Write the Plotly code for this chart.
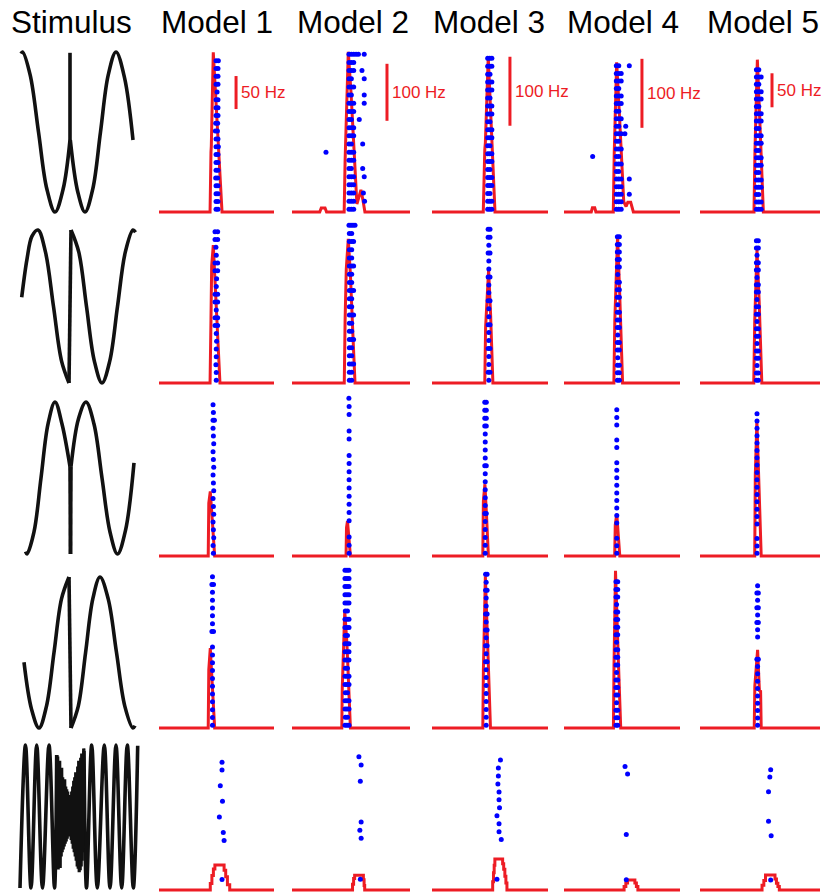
import plotly.graph_objects as go

# ======================= DATA =======================
TITLES = ["Stimulus", "Model 1", "Model 2", "Model 3", "Model 4", "Model 5"]

SCALE_LABELS = ["50 Hz", "100 Hz", "100 Hz", "100 Hz", "50 Hz"]
SCALE_HZ = [50, 100, 100, 100, 50]
SCALE_BAR_T = [67.0, 80.5, 67.2, 67.2, 60.0]     # ms, in row-1 panel of each model
SCALE_BAR_LOW = [156, 160, 125, 122, 154]        # Hz, lower end of the bar

# --- stimulus waveforms (time, amplitude); None separates strokes ---
STIM1_T = [21, 22.5, 30.2, 38.5, 46.8, 55, 63.2, 70, None, 70, 70, None,
           70.3, 77.8, 85, 92.8, 100.5, 108.2, 116, 124.5, 133]
STIM1_V = [0.98, 1.0, 0.71, 0.0, -0.71, -1.0, -0.71, -0.1, None, -0.1, 0.99, None,
           -0.1, -0.75, -1.0, -0.71, 0.0, 0.71, 1.0, 0.68, -0.1]

STIM2_T = [21.7, 27, 32, 38, 45.5, 53.5, 61.5, 69, None, 69, 71, None,
           71, 78.8, 86.5, 94.3, 102, 109.8, 117.5, 125.3, 133, 135.5]
STIM2_V = [0.12, 0.62, 0.92, 1.0, 0.71, 0.0, -0.71, -1.0, None, -1.0, 1.0, None,
           1.0, 0.71, 0.0, -0.71, -1.0, -0.71, 0.0, 0.71, 1.0, 0.97]

STIM3_T = [25.5, 27, 34, 41, 48, 55, 62, 70, None, 70, 70.5, None, 70.5, 71, None,
           71, 78.5, 86, 94, 102, 110, 117.5, 125.5, 134]
STIM3_V = [-0.97, -1.0, -0.71, 0.0, 0.71, 1.0, 0.71, 0.15, None, 0.15, -1.0, None, -1.0, 0.15, None,
           0.15, 0.78, 1.0, 0.71, 0.0, -0.71, -1.0, -0.69, 0.2]

STIM4_T = [24, 31.5, 39, 46.5, 54, 61.5, 69, None, 69, 71, None,
           71, 78.3, 85.6, 92.8, 100, 108.2, 116.5, 124.8, 133, 135]
STIM4_V = [-0.13, -0.75, -1.0, -0.71, 0.0, 0.71, 1.0, None, 1.0, -1.0, None,
           -1.0, -0.71, 0.0, 0.71, 1.0, 0.71, 0.0, -0.71, -1.0, -0.97]

STIM5_T = [20, 25.5, 31, 36.7, 42.5, 49, 54.5, 56.7, None,
           84, 86.5, 91.7, 97.3, 104.3, 110, 116, 121.7, 127.3, 133.3, 137.7]
STIM5_V = [-1.0, 1.0, -1.0, 1.0, -1.0, 1.0, -1.0, 0.86, None,
           0.92, -1.0, 1.0, -1.0, 1.0, -1.0, 1.0, -1.0, 1.0, -1.0, 0.99]

STIM5_NOISE = [(56.7, 0.86), (57.2, -0.60), (57.7, 0.84), (58.2, -0.74), (58.7, 0.70),
               (59.2, -0.66), (59.7, 0.78), (60.2, -0.72), (60.7, 0.60), (61.2, -0.56),
               (61.7, 0.68), (62.2, -0.50), (62.7, 0.55), (63.2, -0.46), (63.7, 0.50),
               (64.2, -0.42), (64.7, 0.52), (65.2, -0.38), (65.7, 0.42), (66.2, -0.35),
               (66.7, 0.38), (67.2, -0.31), (67.7, 0.35), (68.2, -0.28), (68.7, 0.30),
               (69.2, -0.25), (69.7, 0.28), (70.2, -0.27), (70.7, 0.30), (71.2, -0.33),
               (71.7, 0.35), (72.2, -0.38), (72.7, 0.42), (73.2, -0.45), (73.7, 0.50),
               (74.2, -0.50), (74.7, 0.55), (75.2, -0.56), (75.7, 0.62), (76.2, -0.62),
               (76.7, 0.60), (77.2, -0.70), (77.7, 0.70), (78.2, -0.73), (78.7, 0.78),
               (79.2, -0.78), (79.7, 0.72), (80.2, -0.75), (80.7, 0.82), (81.2, -0.70),
               (81.7, 0.88), (82.2, -0.62), (82.7, 0.85), (83.2, -0.50), (83.7, 0.95),
               (84.0, 0.92)]

# --- PSTH: time (ms) and rate (Hz) for each row (R) and model (C) ---
R1C1_T = [0, 44.4, 45.2, 45.5, 47.2, 49.6, 51.3, 53.0, 54.8, 100]
R1C1_R = [0, 0, 91, 100, 242, 165, 110, 50, 0, 0]
R1C2_T = [0, 23.5, 24.8, 28.0, 29.3, 44.2, 45.0, 47.7, 50.0, 52.9, 55.0, 56.7, 58.4, 60.1, 61.8, 100]
R1C2_R = [0, 0, 7, 7, 0, 0, 90, 281, 210, 88, 14, 26, 39, 21, 0, 0]
R1C3_T = [0, 44.2, 45.5, 46.0, 48.5, 50.5, 52.5, 54.3, 100]
R1C3_R = [0, 0, 90, 100, 225, 150, 70, 0, 0]
R1C4_T = [0, 23.5, 24.5, 26.5, 27.5, 42.5, 43.3, 45.4, 47.5, 49.5, 51.5, 53.5, 55.0, 57.5, 59.8, 100]
R1C4_R = [0, 0, 6, 6, 0, 0, 85, 217, 150, 70, 15, 8, 14, 14, 0, 0]
R1C5_T = [0, 45.0, 45.8, 47.8, 49.5, 51.2, 52.8, 100]
R1C5_R = [0, 0, 90, 224, 150, 60, 0, 0]

R2C1_T = [0, 44.4, 45.2, 45.8, 47.2, 49.0, 51.0, 53.0, 100]
R2C1_R = [0, 0, 96, 177, 209, 150, 80, 0, 0]
R2C2_T = [0, 44.3, 45.0, 46.0, 47.7, 49.5, 51.5, 53.4, 100]
R2C2_R = [0, 0, 110, 200, 253, 190, 90, 0, 0]
R2C3_T = [0, 45.5, 46.2, 48.8, 50.5, 52.5, 100]
R2C3_R = [0, 0, 80, 164, 100, 0, 0]
R2C4_T = [0, 43.0, 43.8, 46.2, 48.0, 50.5, 100]
R2C4_R = [0, 0, 90, 213, 130, 0, 0]
R2C5_T = [0, 44.8, 45.6, 47.5, 49.3, 51.5, 100]
R2C5_R = [0, 0, 90, 196, 120, 0, 0]

R3C1_T = [0, 42.8, 43.3, 44.6, 46.5, 48.4, 100]
R3C1_R = [0, 0, 80, 98, 50, 0, 0]
R3C2_T = [0, 45.8, 46.2, 47.0, 48.3, 49.5, 100]
R3C2_R = [0, 0, 50, 61, 30, 0, 0]
R3C3_T = [0, 43.8, 44.3, 45.6, 47.1, 48.6, 100]
R3C3_R = [0, 0, 80, 104, 55, 0, 0]
R3C4_T = [0, 43.7, 44.2, 45.5, 46.8, 48.1, 100]
R3C4_R = [0, 0, 45, 61, 30, 0, 0]
R3C5_T = [0, 45.6, 46.1, 47.4, 49.2, 51.0, 100]
R3C5_R = [0, 0, 120, 199, 100, 0, 0]

R4C1_T = [0, 42.8, 43.3, 44.6, 46.5, 48.4, 100]
R4C1_R = [0, 0, 88, 121, 60, 0, 0]
R4C2_T = [0, 42.2, 42.6, 44.7, 46.5, 48.0, 49.5, 100]
R4C2_R = [0, 0, 70, 205, 150, 80, 0, 0]
R4C3_T = [0, 43.8, 44.3, 46.0, 48.2, 50.4, 100]
R4C3_R = [0, 0, 83, 220, 110, 0, 0]
R4C4_T = [0, 42.6, 43.1, 44.4, 46.6, 48.9, 100]
R4C4_R = [0, 0, 90, 228, 110, 0, 0]
R4C5_T = [0, 45.2, 45.7, 48.0, 49.5, 50.5, 51.0, 100]
R4C5_R = [0, 0, 62, 115, 55, 54, 0, 0]

R5C1_T = [0, 44.6, 46.0, 47.3, 48.6, 56.6, 58.0, 59.5, 61.5, 100]
R5C1_R = [0, 10, 22, 32, 38, 30, 20, 8, 0, 0]
R5C2_T = [0, 51.3, 52.2, 53.1, 60.5, 61.1, 61.6, 100]
R5C2_R = [0, 10, 20, 26, 18, 8, 0, 0]
R5C3_T = [0, 52.3, 53.0, 53.6, 54.2, 60.9, 61.8, 62.8, 63.7, 64.6, 100]
R5C3_R = [0, 12, 25, 36, 45, 38, 30, 20, 10, 0, 0]
R5C4_T = [0, 51.8, 53.3, 54.8, 61.1, 62.4, 63.7, 100]
R5C4_R = [0, 5, 10, 14.5, 10, 5, 0, 0]
R5C5_T = [0, 51.7, 53.2, 54.6, 62.5, 63.7, 64.9, 66.1, 100]
R5C5_R = [0, 7, 14, 22, 16, 10, 5, 0, 0]

# --- rasters: spike times (ms) of trials 1..20 (bottom to top) ---
R1C1_SPK = [[49.6, 51.3], [49.6, 51.3], [49.6, 51.3], [49.6, 51.3], [49.3, 51.0],
            [49.6, 51.3], [49.6, 51.3], [49.6, 51.3], [49.6, 51.6], [49.6, 51.3],
            [49.0, 50.8], [49.3, 51.0], [49.6, 51.3], [49.6, 51.3], [49.6, 51.3],
            [50.5], [49.6, 51.3], [49.6, 51.3], [49.6, 51.3], [49.6, 51.6]]
R1C2_SPK = [[48.3, 50.3, 52.3], [48.3, 50.3, 52.3, 61.5], [48.3, 50.3, 52.3, 60.5], [48.3, 50.3, 52.3],
            [48.3, 50.3, 52.3, 61.2], [48.3, 50.3, 59.9], [48.3, 50.3, 52.3], [28.8, 48.3, 50.3, 52.3],
            [48.3, 50.3, 59.9], [48.3, 50.3, 52.3], [48.3, 50.3, 52.3], [48.3, 50.3, 57.0],
            [48.3, 50.3, 52.3], [48.3, 50.3, 52.3, 61.2], [48.3, 50.3, 61.2], [48.3, 50.3, 52.3],
            [48.3, 50.3, 61.2], [48.3, 50.3, 52.3, 59.3], [48.3, 50.3, 52.3],
            [48.3, 50.3, 52.3, 54.3, 56.3, 61.2]]
R1C3_SPK = [[48.0, 49.8, 51.6], [48.0, 49.8, 51.6], [48.0, 50.0], [48.0, 49.8, 51.6], [48.0, 49.8, 51.6],
            [48.0, 50.0], [48.0, 49.8, 51.6], [48.0, 49.8, 51.6], [48.0, 50.0], [48.0, 49.8, 51.6],
            [48.0, 49.8, 51.6], [48.0, 50.0], [48.0, 49.8, 51.6], [48.0, 49.8, 51.6], [48.0, 50.0],
            [48.0, 49.8, 51.6], [48.0, 49.8, 51.6], [48.0, 50.0], [48.0, 49.8, 51.6], [48.0, 49.8, 51.6]]
R1C4_SPK = [[45.1, 47.2, 49.3], [45.1, 47.2, 49.3], [45.1, 47.2, 49.3, 56.3], [45.1, 47.2, 49.3],
            [45.1, 47.2, 49.3, 56.3], [45.1, 47.2], [45.1, 47.2, 49.3], [24.7, 45.1, 47.2],
            [45.1, 47.2, 49.3], [45.1, 47.2], [45.1, 47.2, 49.3, 52.5], [45.1, 47.2, 53.2],
            [45.1, 47.2, 49.3], [45.1, 47.2], [45.1, 47.2, 49.3], [45.1, 47.2, 49.3],
            [45.1, 47.2], [45.1, 47.2, 49.3], [45.1, 47.2, 49.3], [45.1, 47.2, 56.3]]
R1C5_SPK = [[47.0, 49.0, 51.0], [47.0, 49.0, 51.0], [47.0, 49.0], [47.0, 49.0, 51.0], [47.0, 49.0, 51.0],
            [47.0, 49.0], [47.0, 49.0, 51.0], [47.0, 49.0, 51.0], [47.0, 49.0], [47.0, 49.0, 51.0],
            [47.0, 49.0, 51.0], [47.0, 49.0], [47.0, 49.0, 51.0], [47.0, 49.0, 51.0], [47.0, 49.0],
            [47.0, 49.0, 51.0], [47.0, 49.0, 51.0], [47.0, 49.0], [47.0, 49.0, 51.0], [47.0, 49.0]]

R2C1_SPK = [[49.8], [49.8], [49.5], [49.8], [49.8], [50.1], [49.8], [48.7, 51.0], [48.7, 51.0], [49.8],
            [48.7, 51.0], [48.7, 51.0], [49.8], [50.1], [48.7, 51.0], [48.7, 51.0], [49.8], [49.5],
            [48.7, 51.0], [48.7, 51.0]]
R2C2_SPK = [[48.6, 50.6], [48.6, 50.6], [48.6, 50.6, 52.2], [48.6, 50.6], [48.6, 50.6],
            [48.6, 50.6, 52.2], [48.6, 50.6], [48.6, 50.6], [48.6, 50.6, 52.2], [48.6, 50.6],
            [48.6, 50.6], [48.6, 50.6, 52.2], [48.6, 50.6], [48.6, 50.6], [48.6, 50.6, 52.2],
            [48.6, 50.6], [48.6, 50.6], [48.6, 50.6, 52.2], [48.6, 50.6], [48.3, 50.0, 51.7, 53.4]]
R2C3_SPK = [[49.0], [48.4, 50.0], [49.0], [49.0], [48.4, 50.0], [49.0], [49.0], [48.4, 50.0], [49.0], [49.0],
            [48.4, 50.0], [49.0], [49.0], [48.4, 50.0], [49.0], [49.0], [48.4, 50.0], [49.0], [48.4, 50.0],
            [48.4, 50.0]]
R2C4_SPK = [[46.0, 47.7], [46.0, 47.7], [46.0, 47.7], [46.3], [46.0, 47.7], [46.0, 47.7], [46.3],
            [46.0, 47.7], [46.0, 47.7], [46.0, 47.7], [46.3], [46.0, 47.7], [46.0, 47.7], [46.0, 47.7],
            [46.3], [46.0, 47.7], [46.0, 47.7], [46.0, 47.7], [46.0, 47.7], [46.0, 47.7]]
R2C5_SPK = [[47.0, 48.6], [47.0, 48.6], [47.5], [47.0, 48.6], [47.0, 48.6], [47.5], [47.0, 48.6],
            [47.0, 48.6], [47.5], [47.0, 48.6], [47.0, 48.6], [47.5], [47.0, 48.6], [47.0, 48.6],
            [47.5], [47.0, 48.6], [47.0, 48.6], [47.5], [47.0, 48.6], [47.0, 48.6]]

R3C1_SPK = [[47.3], [47.0], [47.6], [47.3], [47.0], [47.6], [47.3], [47.0], [47.6], [47.3],
            [47.0], [47.6], [47.3], [47.0], [47.6], [47.3], [47.0], [47.0, 48.2], [47.3], [47.0]]
R3C2_SPK = [[48.4], [48.4], [48.4], [], [48.4], [48.4], [48.4], [48.4], [48.4], [48.4],
            [48.4], [48.4], [48.4], [], [48.4], [48.4], [], [48.4], [48.4], [48.2]]
R3C3_SPK = [[45.9], [45.9], [45.9], [45.9], [45.9], [45.5, 46.8], [45.9], [45.9], [45.9], [45.9],
            [45.9], [45.5, 46.8], [45.9], [45.9], [45.9], [45.9], [45.5, 46.8], [45.5, 46.8],
            [45.5, 46.8], [45.5, 46.8]]
R3C4_SPK = [[45.5], [45.5], [45.5], [], [45.5], [45.5], [45.5], [45.5], [45.5], [45.5],
            [45.5], [45.5], [45.5], [], [45.5], [45.5], [], [45.5], [45.5], [45.5]]
R3C5_SPK = [[47.5], [47.5], [47.5], [], [47.5], [47.5], [47.5], [47.5], [47.5], [47.5],
            [47.5], [47.5], [47.5], [47.5], [47.5], [47.5], [47.5], [47.5], [47.5], [47.5]]

R4C1_SPK = [[46.5], [46.5], [46.5], [46.5], [46.5], [46.5], [46.5], [46.5], [46.5], [46.5],
            [46.5], [], [46.0, 47.4], [46.5], [46.5], [46.5], [46.5], [46.5], [46.0, 47.4], [46.5]]
R4C2_SPK = [[44.9, 46.6, 48.3], [45.2, 47.0], [44.9, 46.6, 48.3], [44.9, 46.6, 48.3], [45.2, 47.0],
            [44.9, 46.6, 48.3], [44.9, 46.6, 48.3], [45.2, 47.0], [44.9, 46.6, 48.3], [44.9, 46.6, 48.3],
            [44.9, 46.6, 48.3], [45.2, 47.0], [44.9, 46.6, 48.3], [44.9, 46.6, 48.3], [45.2, 47.0],
            [44.9, 46.6, 48.3], [44.9, 46.6, 48.3], [44.9, 46.6, 48.3], [44.9, 46.6, 48.3],
            [44.9, 46.6, 48.3]]
R4C3_SPK = [[46.7], [46.7], [46.7], [46.7], [46.7], [46.7], [46.7], [46.7], [46.2, 47.5], [46.7],
            [46.2, 47.5], [46.7], [46.2, 47.5], [46.7], [46.2, 47.5], [46.7], [46.7], [46.2, 47.5],
            [46.7], [46.2, 47.5]]
R4C4_SPK = [[44.8, 46.3], [44.8, 46.3], [44.8, 46.3], [45.3], [44.8, 46.3], [44.8, 46.3], [44.8, 46.3],
            [45.3], [44.8, 46.3], [44.8, 46.3], [44.8, 46.3], [45.3], [44.8, 46.3], [44.8, 46.3],
            [44.8, 46.3], [44.8, 46.3], [45.3], [44.8, 46.3], [44.8, 46.3], [44.8, 46.3]]
R4C5_SPK = [[48.0], [48.0], [48.0], [48.0], [48.0], [48.0], [48.0], [48.0], [48.0], [47.4, 48.6],
            [], [], [48.0], [48.0], [47.4, 48.6], [48.0], [47.4, 48.6], [48.0], [47.4, 48.6], [48.0]]

R5C1_SPK = [[], [54.8], [], [], [], [], [56.6], [55.9], [], [52.5],
            [], [55.2], [], [53.3], [], [54.8], [54.8], [], [], []]
R5C2_SPK = [[], [57.9], [], [], [], [], [58.6], [57.5], [58.6], [],
            [], [], [], [57.9], [], [58.6], [56.7], [], [], []]
R5C3_SPK = [[], [56.0], [], [], [], [], [59.7], [57.8], [57.8], [56.0],
            [58.2], [57.8], [57.8], [56.8], [57.2], [57.2], [59.0], [], [], []]
R5C4_SPK = [[], [53.7], [], [], [], [], [], [53.7], [], [],
            [], [], [], [], [], [54.8], [52.6], [], [], []]
R5C5_SPK = [[], [58.9], [], [], [], [], [], [59.3], [], [57.1],
            [], [], [], [57.1], [], [58.2], [58.9], [], [], []]

# ======================= LAYOUT / STYLE =======================
FIG_W, FIG_H = 822, 894
FONT = "Liberation Sans, Arial, Helvetica, sans-serif"
RED = "#ED1C24"
BLUE = "#0000FF"
INK = "#111111"

TITLE_X = [71, 217, 353, 489, 623, 763]
TITLE_Y = 22

ROW_BASE = [212, 383, 556, 728, 890]
COL_L = [159, 292, 432, 564, 700]
COL_R = [274, 410, 548, 680, 820]
PX_PER_HZ = [0.66, 0.57, 0.69, 0.69, 0.68]
PX_PER_TRIAL = [7.82, 8.16, 7.95, 7.55, 7.35]
TRIAL1_H = 2.7
PANEL_TOP = 165
PANEL_PAD = 5

STIM_X = [15, 142]
STIM_TOP = [52, 230, 402, 577, 745]
STIM_BOT = [212, 383, 554, 728, 888]
STIM_PAD = 6

STIMS = [(STIM1_T, STIM1_V), (STIM2_T, STIM2_V), (STIM3_T, STIM3_V),
         (STIM4_T, STIM4_V), (STIM5_T, STIM5_V)]
PSTH = [[(R1C1_T, R1C1_R), (R1C2_T, R1C2_R), (R1C3_T, R1C3_R), (R1C4_T, R1C4_R), (R1C5_T, R1C5_R)],
        [(R2C1_T, R2C1_R), (R2C2_T, R2C2_R), (R2C3_T, R2C3_R), (R2C4_T, R2C4_R), (R2C5_T, R2C5_R)],
        [(R3C1_T, R3C1_R), (R3C2_T, R3C2_R), (R3C3_T, R3C3_R), (R3C4_T, R3C4_R), (R3C5_T, R3C5_R)],
        [(R4C1_T, R4C1_R), (R4C2_T, R4C2_R), (R4C3_T, R4C3_R), (R4C4_T, R4C4_R), (R4C5_T, R4C5_R)],
        [(R5C1_T, R5C1_R), (R5C2_T, R5C2_R), (R5C3_T, R5C3_R), (R5C4_T, R5C4_R), (R5C5_T, R5C5_R)]]
RASTER = [[R1C1_SPK, R1C2_SPK, R1C3_SPK, R1C4_SPK, R1C5_SPK],
          [R2C1_SPK, R2C2_SPK, R2C3_SPK, R2C4_SPK, R2C5_SPK],
          [R3C1_SPK, R3C2_SPK, R3C3_SPK, R3C4_SPK, R3C5_SPK],
          [R4C1_SPK, R4C2_SPK, R4C3_SPK, R4C4_SPK, R4C5_SPK],
          [R5C1_SPK, R5C2_SPK, R5C3_SPK, R5C4_SPK, R5C5_SPK]]
PSTH_SHAPE = ["linear", "linear", "linear", "linear", "hv"]

layout = dict(width=FIG_W, height=FIG_H, margin=dict(l=0, r=0, t=0, b=0),
              paper_bgcolor="white", plot_bgcolor="rgba(0,0,0,0)", showlegend=False)
counters = {"x": 0, "y": 0}


def _id(kind, n):
    return kind if n == 1 else f"{kind}{n}"


def _key(kind, n):
    return f"{kind}axis" if n == 1 else f"{kind}axis{n}"


def add_x(l_px, r_px, rng):
    counters["x"] += 1
    n = counters["x"]
    layout[_key("x", n)] = dict(domain=[l_px / FIG_W, r_px / FIG_W], range=rng,
                                visible=False, fixedrange=True, showgrid=False, zeroline=False)
    return n


def add_y(top_px, bot_px, rng, xn, overlay=None):
    counters["y"] += 1
    n = counters["y"]
    ax = dict(range=rng, visible=False, fixedrange=True, showgrid=False, zeroline=False,
              anchor=_id("x", xn))
    if overlay is None:
        ax["domain"] = [max(0.0, 1 - bot_px / FIG_H), min(1.0, 1 - top_px / FIG_H)]
    else:
        ax["overlaying"] = _id("y", overlay)
    layout[_key("y", n)] = ax
    return n


fig = go.Figure()
annotations = []

# titles
for txt, xp in zip(TITLES, TITLE_X):
    annotations.append(dict(text=txt, x=xp / FIG_W, y=1 - TITLE_Y / FIG_H, xref="paper", yref="paper",
                            xanchor="center", yanchor="middle", showarrow=False,
                            font=dict(family=FONT, size=31.5, color="black")))

# stimulus column
for r in range(5):
    top, bot = STIM_TOP[r], STIM_BOT[r]
    ha = (bot - top) / 2
    xn = add_x(STIM_X[0], STIM_X[1], STIM_X)
    yn = add_y(top - STIM_PAD, bot + STIM_PAD, [-1 - STIM_PAD / ha, 1 + STIM_PAD / ha], xn)
    layout[_key("x", xn)]["anchor"] = _id("y", yn)
    t, v = STIMS[r]
    fig.add_trace(go.Scatter(x=t, y=v, mode="lines", xaxis=_id("x", xn), yaxis=_id("y", yn),
                             line=dict(color=INK, width=3.6, shape="spline", smoothing=1.0),
                             hoverinfo="skip"))
    if r == 4:
        fig.add_trace(go.Scatter(x=[p[0] for p in STIM5_NOISE], y=[p[1] for p in STIM5_NOISE],
                                 mode="lines", xaxis=_id("x", xn), yaxis=_id("y", yn),
                                 line=dict(color=INK, width=3.2), hoverinfo="skip"))

# model panels
for r in range(5):
    base = ROW_BASE[r]
    top_px = base - PANEL_TOP
    bot_px = min(base + PANEL_PAD, FIG_H)
    below = bot_px - base
    for c in range(5):
        xn = add_x(COL_L[c], COL_R[c], [0, 100])
        pph = PX_PER_HZ[c]
        yn = add_y(top_px, bot_px, [-below / pph, PANEL_TOP / pph], xn)
        layout[_key("x", xn)]["anchor"] = _id("y", yn)
        ppt = PX_PER_TRIAL[c]
        yrn = add_y(None, None, [1 + (-below - TRIAL1_H) / ppt, 1 + (PANEL_TOP - TRIAL1_H) / ppt],
                    xn, overlay=yn)
        t, rate = PSTH[r][c]
        fig.add_trace(go.Scatter(x=t, y=rate, mode="lines", xaxis=_id("x", xn), yaxis=_id("y", yn),
                                 line=dict(color=RED, width=3, shape=PSTH_SHAPE[r]),
                                 hoverinfo="skip"))
        sx, sy = [], []
        for k, spikes in enumerate(RASTER[r][c]):
            for s in spikes:
                sx.append(s)
                sy.append(k + 1)
        fig.add_trace(go.Scatter(x=sx, y=sy, mode="markers", xaxis=_id("x", xn), yaxis=_id("y", yrn),
                                 marker=dict(color=BLUE, size=5, line=dict(width=0)),
                                 cliponaxis=False, hoverinfo="skip"))
        if r == 0:
            lo = SCALE_BAR_LOW[c]
            hi = lo + SCALE_HZ[c]
            fig.add_trace(go.Scatter(x=[SCALE_BAR_T[c], SCALE_BAR_T[c]], y=[lo, hi], mode="lines",
                                     xaxis=_id("x", xn), yaxis=_id("y", yn),
                                     line=dict(color=RED, width=3), hoverinfo="skip"))
            annotations.append(dict(text=SCALE_LABELS[c], x=SCALE_BAR_T[c], y=(lo + hi) / 2,
                                    xref=_id("x", xn), yref=_id("y", yn), xanchor="left",
                                    yanchor="middle", xshift=3, showarrow=False,
                                    font=dict(family=FONT, size=17, color=RED)))

layout["annotations"] = annotations
fig.update_layout(**layout)
fig.write_html("out.html")
